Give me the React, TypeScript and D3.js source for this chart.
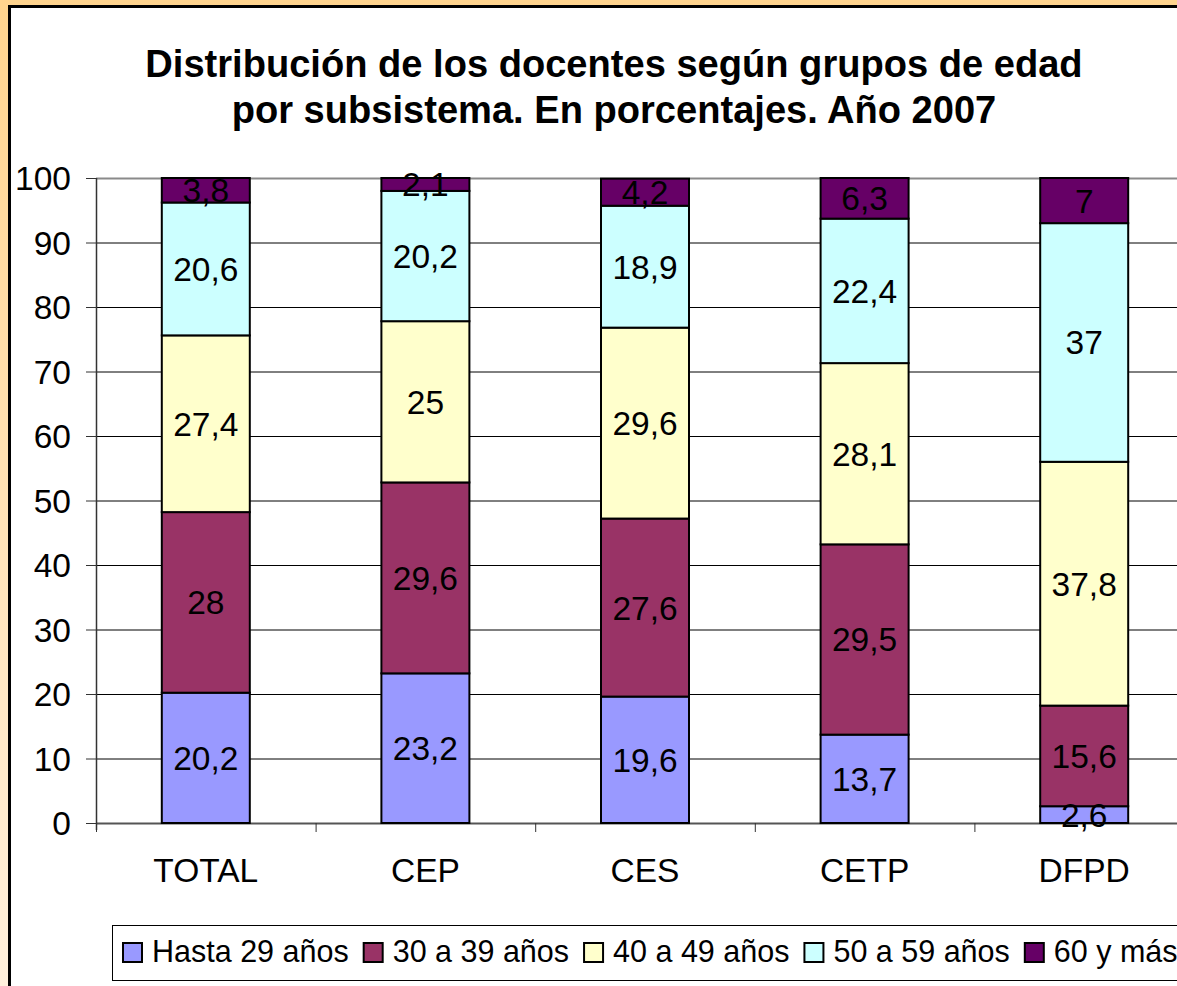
import React from "react";
import * as d3 from "d3";

const categories = ["TOTAL", "CEP", "CES", "CETP", "DFPD"];
const seriesNames = ["Hasta 29 años", "30 a 39 años", "40 a 49 años", "50 a 59 años", "60 y más"];
const hasta29 = [20.2, 23.2, 19.6, 13.7, 2.6];
const de30a39 = [28, 29.6, 27.6, 29.5, 15.6];
const de40a49 = [27.4, 25, 29.6, 28.1, 37.8];
const de50a59 = [20.6, 20.2, 18.9, 22.4, 37];
const de60ymas = [3.8, 2.1, 4.2, 6.3, 7];
const yTicks = [0, 10, 20, 30, 40, 50, 60, 70, 80, 90, 100];
const colors = ["#9999FF", "#993366", "#FFFFCC", "#CCFFFF", "#660066"];
const titleLines = ["Distribución de los docentes según grupos de edad", "por subsistema. En porcentajes. Año 2007"];

const series = [hasta29, de30a39, de40a49, de50a59, de60ymas];

const W = 1177;
const H = 986;
const FONT = "'Liberation Sans', Arial, sans-serif";

function fmt(v: number) {
  return String(v).replace(".", ",");
}

function measure(text: string, size: number) {
  const c = document.createElement("canvas").getContext("2d");
  if (!c) return text.length * size * 0.55;
  c.font = `${size}px 'Liberation Sans', Arial, sans-serif`;
  return c.measureText(text).width;
}

export default function App() {
  const x = d3.scaleBand<string>().domain(categories).range([96, 1194]).paddingInner(0).paddingOuter(0);
  const y = d3.scaleLinear().domain([0, 100]).range([823, 178]);
  const barW = 88;
  const fs = 33.5;

  const rows = categories.map((c, i) => {
    let acc = 0;
    return series.map((s, k) => {
      const y0 = acc;
      acc += s[i];
      return { cat: c, k, v: s[i], y0, y1: Math.min(acc, 100) };
    });
  });

  const legendSize = 30.5;
  let lx = 123;
  const legendItems = seriesNames.map((n, k) => {
    const item = { n, k, x: lx };
    lx += 29 + measure(n, legendSize) + 15;
    return item;
  });

  return (
    <svg width={W} height={H} style={{ position: "absolute", left: 0, top: 0, display: "block" }}>
      <defs>
        <linearGradient id="bg" x1="0" y1="0" x2="0" y2="1">
          <stop offset="0" stopColor="#FFD48E" />
          <stop offset="1" stopColor="#FFF0DC" />
        </linearGradient>
      </defs>
      <rect x={0} y={0} width={W} height={H} fill="url(#bg)" />
      <rect x={9.5} y={6.5} width={W + 20} height={H + 20} fill="#FFFFFF" stroke="#000" strokeWidth={3} />

      {titleLines.map((t, i) => (
        <text key={i} x={614} y={77 + i * 46} textAnchor="middle" fontFamily={FONT} fontWeight="bold" fontSize={38.1} fill="#000">
          {t}
        </text>
      ))}

      {yTicks.map((t) => (
        <line key={t} x1={96} x2={W} y1={y(t) + 0.5} y2={y(t) + 0.5} stroke={t === 100 ? "#8a8a8a" : t === 0 ? "#555" : "#000"} strokeWidth={t === 100 || t === 0 ? 2 : 1} />
      ))}
      <line x1={96.5} x2={96.5} y1={178} y2={830} stroke="#333" strokeWidth={1.5} />
      {yTicks.map((t) => (
        <g key={"yt" + t}>
          <line x1={86} x2={96} y1={y(t) + 0.5} y2={y(t) + 0.5} stroke="#333" strokeWidth={1} />
          <text x={71} y={y(t) + 12} textAnchor="end" fontFamily={FONT} fontSize={fs} fill="#000">
            {t}
          </text>
        </g>
      ))}
      {categories.map((c) => (
        <line key={"xt" + c} x1={(x(c) as number) + 0.5} x2={(x(c) as number) + 0.5} y1={823} y2={832} stroke="#333" strokeWidth={1} />
      ))}

      {rows.map((r) =>
        r.map((s) => {
          const cx = (x(s.cat) as number) + x.bandwidth() / 2;
          return (
            <rect key={s.cat + s.k} x={cx - barW / 2} y={y(s.y1)} width={barW} height={y(s.y0) - y(s.y1)} fill={colors[s.k]} stroke="#000" strokeWidth={2} />
          );
        })
      )}
      {rows.map((r) =>
        r.map((s) => {
          const cx = (x(s.cat) as number) + x.bandwidth() / 2;
          return (
            <text key={"l" + s.cat + s.k} x={cx} y={y((s.y0 + s.y1) / 2) + 12} textAnchor="middle" fontFamily={FONT} fontSize={fs} fill="#000">
              {fmt(s.v)}
            </text>
          );
        })
      )}

      {categories.map((c) => (
        <text key={"c" + c} x={(x(c) as number) + x.bandwidth() / 2} y={882} textAnchor="middle" fontFamily={FONT} fontSize={fs} fill="#000">
          {c}
        </text>
      ))}

      <rect x={112.5} y={925.5} width={W} height={55} fill="#fff" stroke="#000" strokeWidth={1} />
      {legendItems.map((it) => (
        <g key={it.n}>
          <rect x={it.x} y={943} width={19} height={19} fill={colors[it.k]} stroke="#000" strokeWidth={2} />
          <text x={it.x + 29} y={962} fontFamily={FONT} fontSize={legendSize} fill="#000">
            {it.n}
          </text>
        </g>
      ))}
    </svg>
  );
}
